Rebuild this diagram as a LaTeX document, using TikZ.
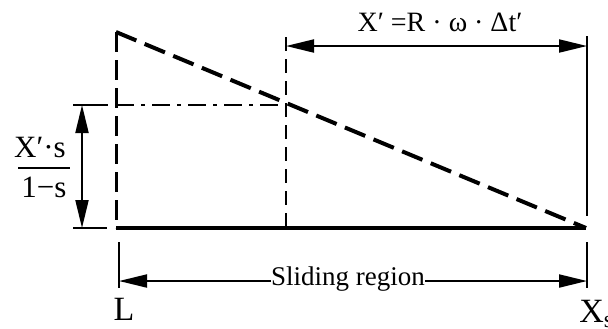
\documentclass[tikz,border=0pt]{standalone}
\usepackage{fontspec}
\setmainfont{Liberation Serif}
\usetikzlibrary{arrows.meta}

\begin{document}
\begin{tikzpicture}[x=0.5pt,y=-0.5pt,
  every node/.style={inner sep=0pt,font=\fontsize{14}{16}\selectfont},
  thin line/.style={line width=1pt},
  dim/.style={line width=1pt,{Triangle[length=14pt,width=6.5pt]}-{Triangle[length=14pt,width=6.5pt]}},
  onedim/.style={line width=1pt,-{Triangle[length=14pt,width=6.5pt]}},
  speed/.style={line width=2pt,dash pattern=on 11pt off 4.5pt},
  edgeline/.style={line width=1.5pt,dash pattern=on 10pt off 4pt},
  guide/.style={line width=1pt,dash pattern=on 7pt off 4pt},
  dashdot/.style={line width=1pt,dash pattern=on 9pt off 3.5pt on 2pt off 3.5pt}]
\useasboundingbox (0,0) rectangle (608,328);

\coordinate (top) at (116,32);
\coordinate (base L) at (116,228);
\coordinate (base X) at (586,228);
\coordinate (cut) at (286,105);
\coordinate (cut low) at (286,228);
\coordinate (cut high) at (286,37);
\coordinate (level) at (116,105);

% slip profile
\draw[speed] (top) -- (base X);
\draw[edgeline] (top) -- (base L);
\draw[guide] (cut high) -- (cut low);
\draw[dashdot] (level) -- (cut);
\draw[line width=1.6pt] (base L) -- (base X);

% left dimension
\coordinate (tick a1) at (73,105);
\coordinate (tick a2) at (108,105);
\coordinate (tick b1) at (73,228);
\coordinate (tick b2) at (107,228);
\draw[thin line] (tick a1) -- (tick a2);
\draw[thin line] (tick b1) -- (tick b2);
\coordinate (ht a) at (82,105);
\coordinate (ht b) at (82,228);
\draw[dim] (ht a) -- (ht b);

\node[font=\fontsize{15.5}{17}\selectfont,anchor=base] (num) at (40,157) {X′·s};
\node[font=\fontsize{15.5}{17}\selectfont,anchor=base] (den) at (44,197) {1−s};
\coordinate (bar a) at (18,168);
\coordinate (bar b) at (70,168);
\draw[thin line] (bar a) -- (bar b);

% top dimension
\coordinate (rx top) at (587,36);
\coordinate (rx mid) at (587,216);
\draw[thin line] (rx top) -- (rx mid);
\coordinate (tw a) at (286,46);
\coordinate (tw b) at (587,46);
\draw[dim] (tw a) -- (tw b);
\node[anchor=base] (xlen) at (440,31) {X′ =R · ω · Δt′};

% sliding region
\coordinate (sl a) at (119,242);
\coordinate (sl b) at (119,288);
\coordinate (sr a) at (587,242);
\coordinate (sr b) at (587,288);
\draw[thin line] (sl a) -- (sl b);
\draw[thin line] (sr a) -- (sr b);
\coordinate (sa) at (119,281);
\coordinate (sb) at (587,281);
\draw[dim] (sa) -- (sb);
\node[fill=white,anchor=base,font=\fontsize{13.5}{16}\selectfont] (region) at (348,285) {Sliding region};

\node[anchor=base,font=\fontsize{17}{19}\selectfont] (L) at (124,320) {L};
\node[anchor=base west,font=\fontsize{17}{19}\selectfont] (Xs) at (579,322) {X\textsubscript{s}};

\end{tikzpicture}
\end{document}
